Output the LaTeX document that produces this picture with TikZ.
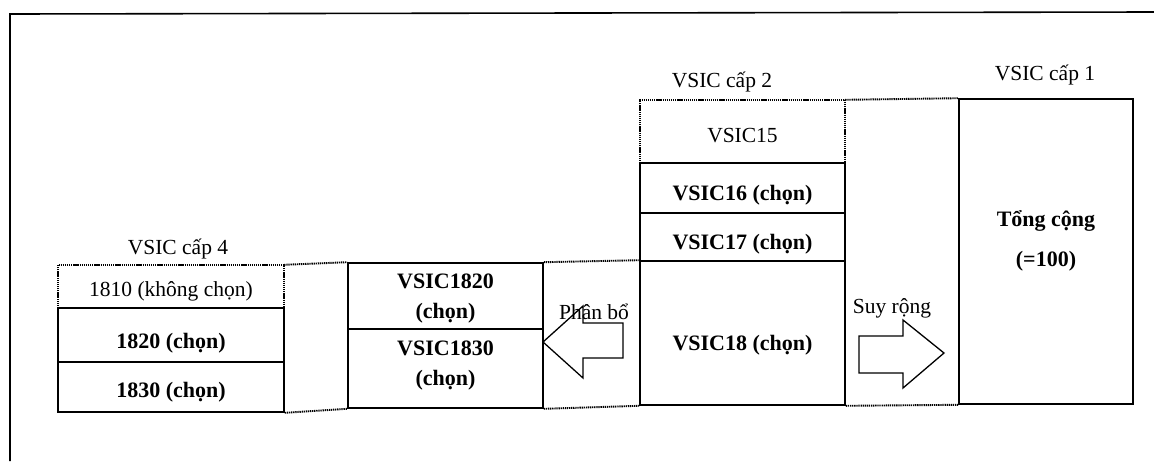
\documentclass[tikz,border=0pt]{standalone}
\usepackage{fontspec}
\setmainfont{Liberation Serif}
\begin{document}
\begin{tikzpicture}[x=1pt,y=-1pt,
  txt/.style={font=\fontsize{21.5}{30}\selectfont, inner sep=0pt, align=center},
  btxt/.style={font=\fontsize{22}{30}\selectfont\bfseries, inner sep=0pt, align=center},
  tsh/.style={text height=#1, text depth=5pt},
  cell/.style={rectangle, inner sep=0pt, minimum width=#1},
  solidcell/.style={cell=#1, draw, line width=1.6pt},
  dotline/.style={line width=1.9pt, dash pattern=on 1.3pt off 0.8pt},
  blockarrow/.style={draw, line width=1.3pt, fill=white, line join=miter}]
\useasboundingbox (0,0) rectangle (1154,461);
% outer frame
\coordinate (fa) at (10,461);
\coordinate (fb) at (10,14);
\coordinate (fc) at (1154,12);
\draw[line width=1.6pt] (fa) -- (fb) -- (fc);

% level 4
\node[txt, tsh=24pt, cell=226pt, minimum height=43pt] (r1810) at (171,286.5) {1810 (không chọn)};
\node[btxt, tsh=31pt, solidcell=226pt, minimum height=54pt] (r1820) at (171,335) {1820 (chọn)};
\node[btxt, tsh=25pt, solidcell=226pt, minimum height=50pt] (r1830) at (171,387) {1830 (chọn)};
\draw[dotline] (r1810.south west) -- (r1810.north west) -- (r1810.north east) -- (r1810.south east);
\node[txt] (l4) at (178,249) {VSIC cấp 4};

% level 4 regrouped
\node[btxt, text depth=0pt, solidcell=195pt, minimum height=66pt] (v1820) at (445.5,296) {VSIC1820\\(chọn)};
\node[btxt, text depth=11pt, solidcell=195pt, minimum height=79pt] (v1830) at (445.5,368.5) {VSIC1830\\(chọn)};

% level 2
\node[txt, tsh=26pt, cell=205pt, minimum height=63pt] (v15) at (742.5,131.5) {VSIC15};
\node[btxt, tsh=29pt, solidcell=205pt, minimum height=50pt] (v16) at (742.5,188) {VSIC16 (chọn)};
\node[btxt, tsh=29pt, solidcell=205pt, minimum height=48pt] (v17) at (742.5,237) {VSIC17 (chọn)};
\node[btxt, tsh=39pt, solidcell=205pt, minimum height=144pt] (v18) at (742.5,333) {VSIC18 (chọn)};
\draw[dotline] (v15.south west) -- (v15.north west) -- (v15.north east) -- (v15.south east);
\node[txt] (l2) at (722,82) {VSIC cấp 2};

% level 1
\node[solidcell=174pt, minimum height=305pt] (l1box) at (1046,251.5) {};
\node[btxt, font=\fontsize{22}{40}\selectfont\bfseries] (tong) at (1046,241) {Tổng cộng\\(=100)};
\node[txt] (l1) at (1045,75) {VSIC cấp 1};

% dotted connectors
\draw[dotline] (r1810.north east) -- (v1820.north west);
\draw[dotline] (r1830.south east) -- (v1830.south west);
\draw[dotline] (v1820.north east) -- (v18.north west);
\draw[dotline] (v1830.south east) -- (v18.south west);
\draw[dotline] (v15.north east) -- (l1box.north west);
\draw[dotline] (v18.south east) -- (l1box.south west);

% Phan bo arrow (pointing left)
\draw[blockarrow] (543,342) -- (583,306) -- (583,323) -- (623,323) -- (623,358) -- (583,358) -- (583,378) -- cycle;
\node[txt] (pb) at (594,312) {Phân bổ};

% Suy rong arrow (pointing right)
\draw[blockarrow] (859,336) -- (903,336) -- (903,320) -- (944,353) -- (903,388) -- (903,373) -- (859,373) -- cycle;
\node[txt] (sr) at (892,308) {Suy rộng};
\end{tikzpicture}
\end{document}
